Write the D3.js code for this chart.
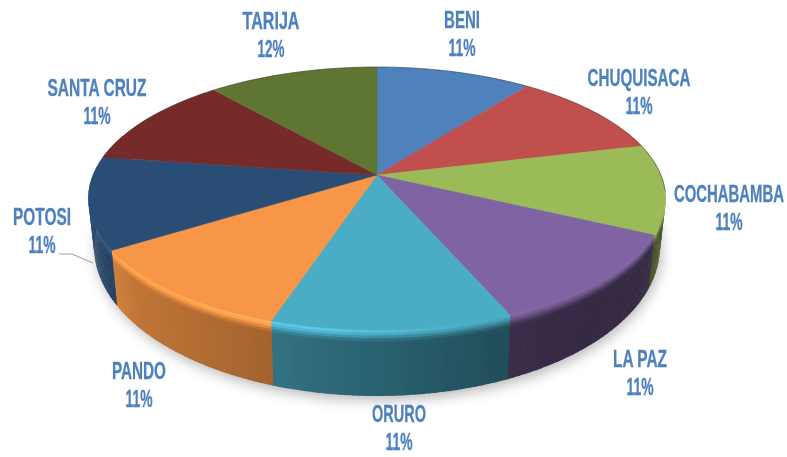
<!DOCTYPE html>
<html><head><meta charset="utf-8">
<script src="https://cdn.jsdelivr.net/npm/d3@7/dist/d3.min.js"></script>
<style>html,body{margin:0;padding:0;background:#fff}svg{display:block}</style>
</head><body><svg id="c" width="787" height="457"></svg>
<script>
const categories=["BENI","CHUQUISACA","COCHABAMBA","LA PAZ","ORURO","PANDO","POTOSI","SANTA CRUZ","TARIJA"];
const percentages=[11,11,11,11,11,11,11,11,12];
const percentLabels=["11%","11%","11%","11%","11%","11%","11%","11%","12%"];
const sliceColors=["#4f81bd","#c0504d","#9bbb59","#8064a2","#4bacc6","#f79646","#2c4d75","#772c2a","#5f7530"];
// label centre and fitted text widths, in the same order as categories
const labelX=[462,639,729,640,399,139,42,97,271];
const labelY=[28,86,202,367,422,379,225,96,29];
const labelW=[36,103,110,54,54,54,58,99,57];
const W=787,H=457,cx=377,cy=175,A=284,B=127.3,k=0.179,depth=45,sxBottom=0.98,syBottom=1.13;

const svg=d3.select("#c");
const defs=svg.append("defs");
defs.append("filter").attr("id","soft").attr("x","-5%").attr("y","-5%").attr("width","110%").attr("height","110%")
  .append("feGaussianBlur").attr("stdDeviation",0.6);
defs.append("filter").attr("id","shadow").attr("x","-20%").attr("y","-20%").attr("width","140%").attr("height","140%")
  .append("feGaussianBlur").attr("stdDeviation",7);
defs.append("filter").attr("id","textsoft").attr("x","-5%").attr("y","-5%").attr("width","110%").attr("height","110%")
  .append("feGaussianBlur").attr("stdDeviation",0.3);

// small view correction of the disc's angles (degrees), as the source's perspective foreshortens them
const viewWarp=d3.scaleLinear().domain([0,40,80,119,158,198,237,277,317,360]).range([0,-2.5,-3,-3,-1.5,0,0,1,2.5,0]);
// perspective disc: angle from top clockwise, t=0 top face, t=1 bottom face
function proj(a,t){
  const na=((a%(2*Math.PI))+2*Math.PI)%(2*Math.PI);
  const w=na+viewWarp(na*180/Math.PI)*Math.PI/180;
  const u=Math.sin(w),v=-Math.cos(w),d=1-k*v;
  return [cx+(1+(sxBottom-1)*t)*A*u/d, cy+t*depth+(1+(syBottom-1)*t)*B*v/d];
}
const pie=d3.pie().sort(null).value(d=>d)(percentages);
const line=d3.line();
const arcPts=(a0,a1,t)=>d3.range(0,41).map(i=>proj(a0+(a1-a0)*i/40,t));

// floor shadow
svg.append("path").attr("d",line(arcPts(0,2*Math.PI,1.06))+"Z").attr("fill","#000").attr("opacity",.3)
  .attr("transform","translate(2,1)").attr("filter","url(#shadow)");

const gMarks=svg.append("g").attr("filter","url(#soft)");

// lighting of the rim: wall brightness by screen position, highlight on the rounded edge
const wallLight=d3.scaleLinear().domain([-1,-.75,-.3,.3,.6,.9,1]).range([.95,.78,.66,.47,.42,.42,.55]);
const edgeLight=d3.scaleLinear().domain([-1,-.2,.3,1]).range([1.12,1.2,1.0,.95]);
const bandEdges=d3.range(0,25).map(i=>i/24);
pie.forEach((p,i)=>{
  const n=Math.ceil((p.endAngle-p.startAngle)/0.02);
  const base=d3.rgb(sliceColors[i]);
  d3.range(n).forEach(j=>{
    const a0=p.startAngle+(p.endAngle-p.startAngle)*j/n;
    const a1=p.startAngle+(p.endAngle-p.startAngle)*(j+1)/n+0.004;
    const am=(a0+a1)/2;
    if(Math.cos(am)>0.3) return;
    const sx=Math.sin(am);
    bandEdges.slice(0,-1).forEach((t,b)=>{
      const t1=bandEdges[b+1]+0.012;
      const tm=(t+bandEdges[b+1])/2;
      const m=Math.min(1,tm/0.2), mix=m*m*(3-2*m);
      const f=edgeLight(sx)*(1-mix)+wallLight(sx)*mix;
      const c=d3.rgb(Math.min(255,base.r*f),Math.min(255,base.g*f),Math.min(255,base.b*f)).formatHex();
      gMarks.append("path")
        .attr("d",line([proj(a0,t),proj(a1,t),proj(a1,t1),proj(a0,t1)])+"Z")
        .attr("fill",c);
    });
  });
});

// top face
pie.forEach((p,i)=>{
  gMarks.append("path")
    .attr("d","M"+[cx,cy]+"L"+arcPts(p.startAngle,p.endAngle,0).map(q=>q.join(",")).join("L")+"Z")
    .attr("fill",sliceColors[i]).attr("stroke",sliceColors[i]).attr("stroke-width",.4);
});
// thin dark edge along the far rim
gMarks.append("path").attr("d",line(arcPts(-1.45,1.75,0))).attr("fill","none").attr("stroke","#333").attr("stroke-opacity",.45).attr("stroke-width",1);

// leader for POTOSI
svg.append("path").attr("d",line([[59,254],[72,254],[93,263]])).attr("fill","none").attr("stroke","#a6a6a6").attr("stroke-width",1.2);

// labels: real text, narrowed by a transform so each fits the width seen in the source
const gText=svg.append("g").attr("filter","url(#textsoft)")
  .attr("font-family","'Liberation Sans Narrow','Liberation Sans',sans-serif").attr("font-weight","700")
  .attr("font-size",24).attr("fill","#4f81bd").attr("stroke","#4f81bd").attr("stroke-width",.35).attr("text-anchor","middle");
function fitted(str,x,y,w){
  const t=gText.append("text").text(str);
  const natural=t.node().getComputedTextLength();
  t.attr("transform",`translate(${x},${y}) scale(${w/natural},1)`);
}
categories.forEach((c,i)=>{
  fitted(c,labelX[i],labelY[i],labelW[i]);
  fitted(percentLabels[i],labelX[i],labelY[i]+28,27);
});
</script></body></html>
